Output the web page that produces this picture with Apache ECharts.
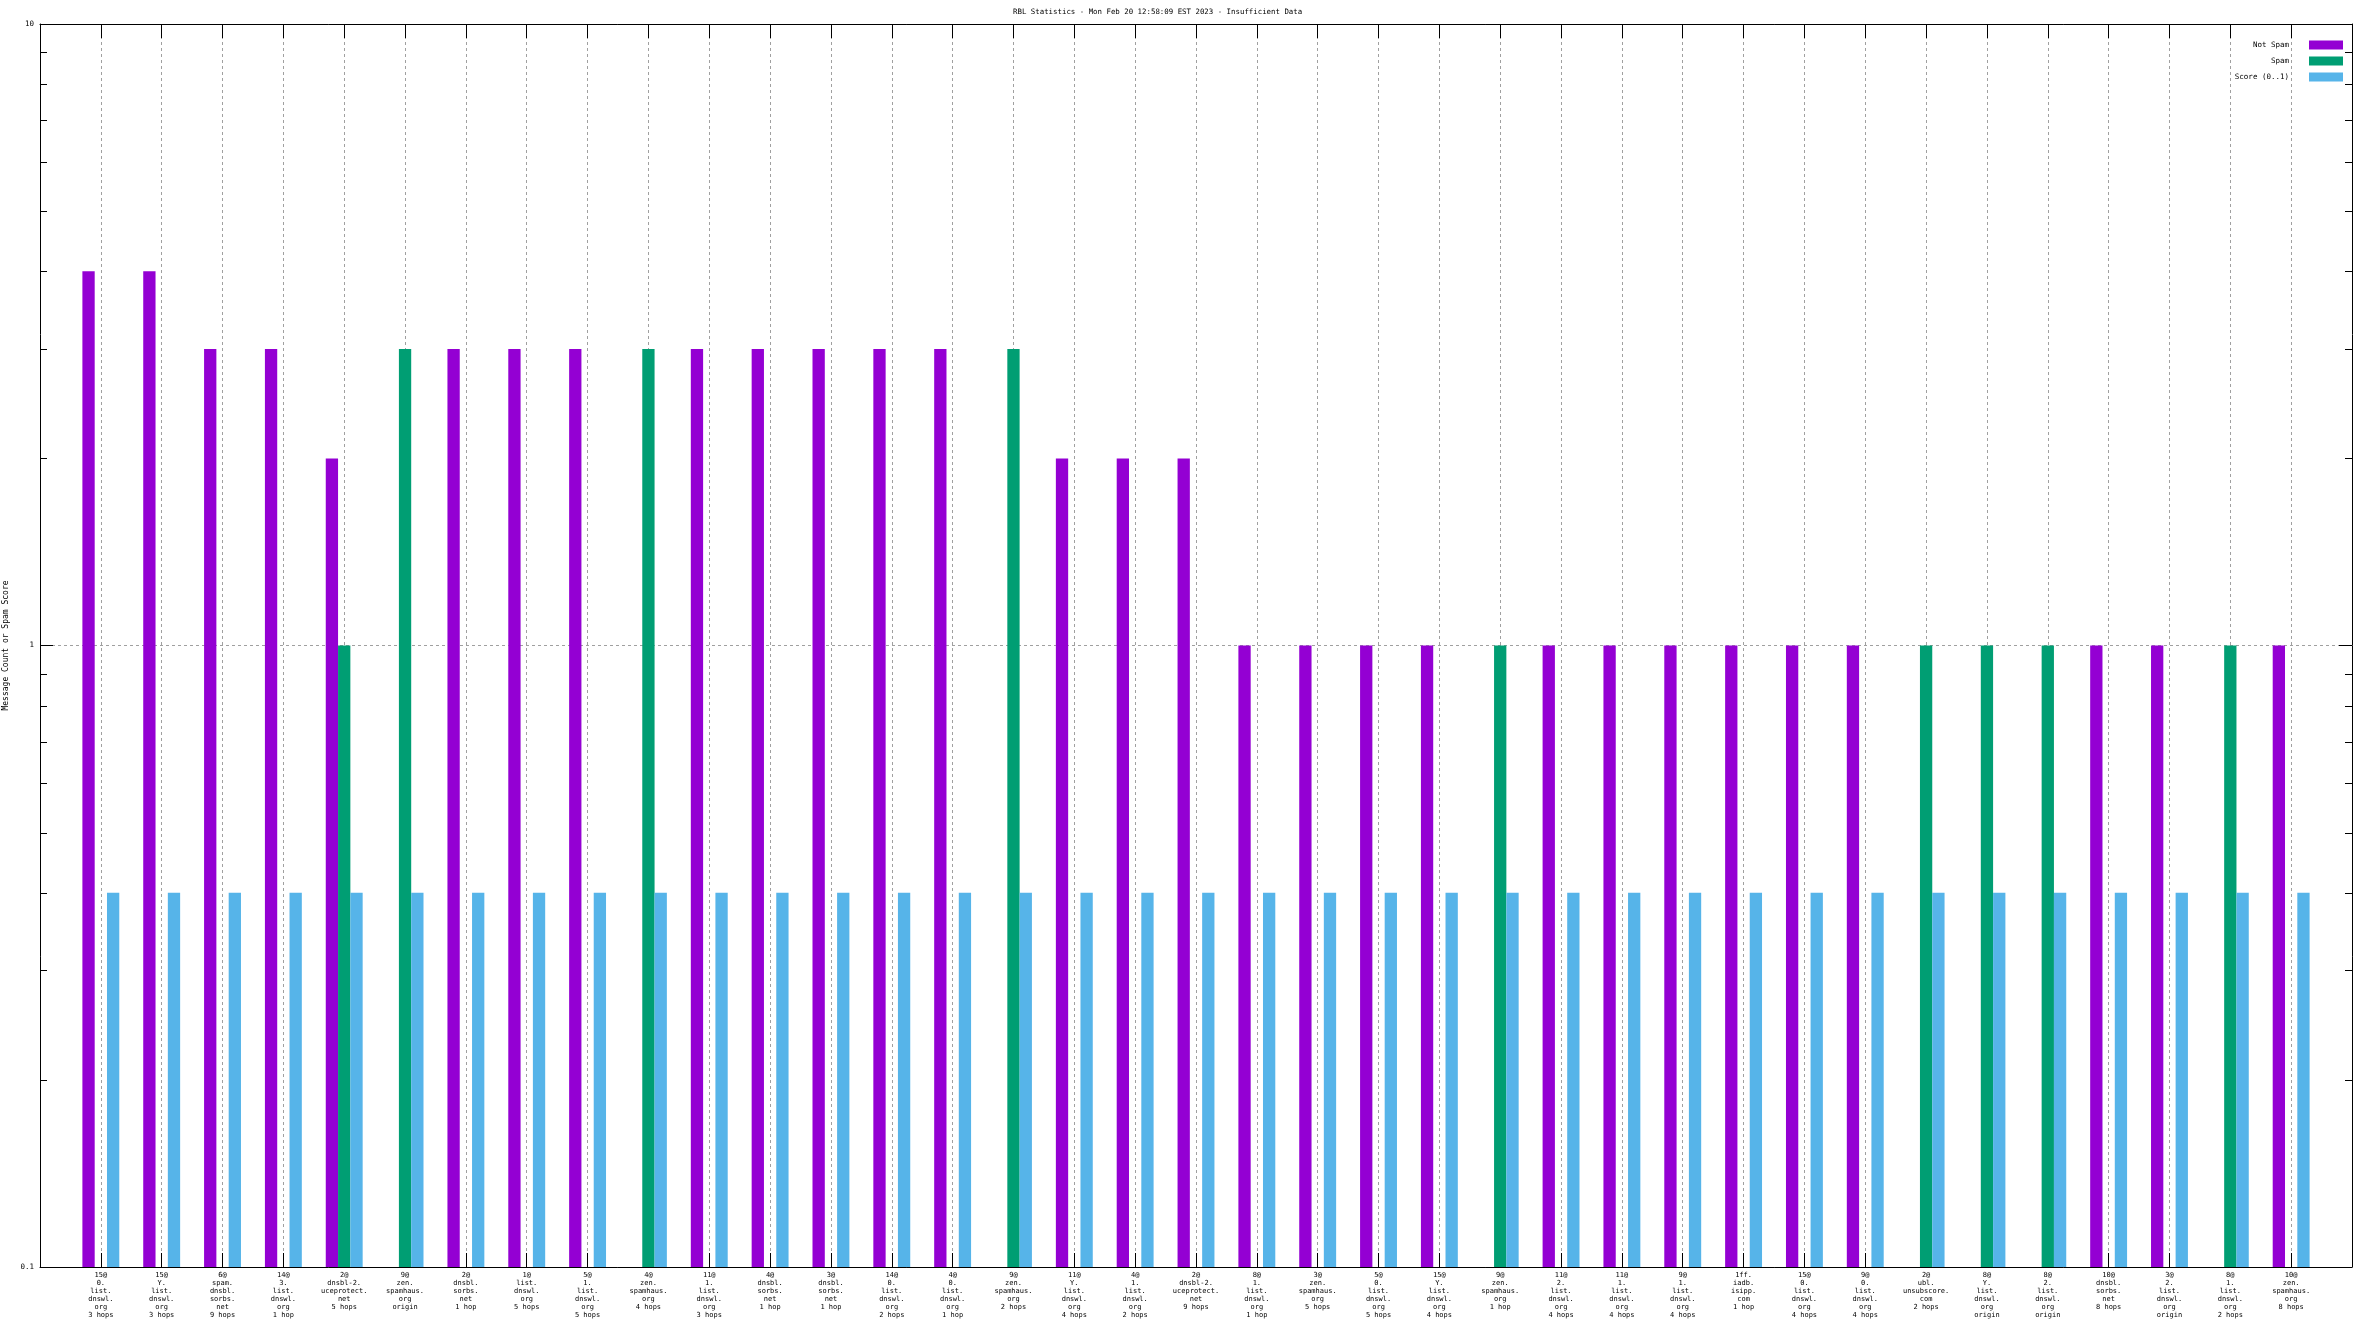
<!DOCTYPE html>
<html><head><meta charset="utf-8">
<script src="https://cdn.jsdelivr.net/npm/echarts@6/dist/echarts.min.js"></script>
<style>html,body{margin:0;padding:0;background:#fff}#c{width:2368px;height:1332px}</style>
</head><body><div id="c"></div>
<script>
// ---- data ----
const categories = [
  "15@\n0.\nlist.\ndnswl.\norg\n3 hops",
  "15@\nY.\nlist.\ndnswl.\norg\n3 hops",
  "6@\nspam.\ndnsbl.\nsorbs.\nnet\n9 hops",
  "14@\n3.\nlist.\ndnswl.\norg\n1 hop",
  "2@\ndnsbl-2.\nuceprotect.\nnet\n5 hops",
  "9@\nzen.\nspamhaus.\norg\norigin",
  "2@\ndnsbl.\nsorbs.\nnet\n1 hop",
  "1@\nlist.\ndnswl.\norg\n5 hops",
  "5@\n1.\nlist.\ndnswl.\norg\n5 hops",
  "4@\nzen.\nspamhaus.\norg\n4 hops",
  "11@\n1.\nlist.\ndnswl.\norg\n3 hops",
  "4@\ndnsbl.\nsorbs.\nnet\n1 hop",
  "3@\ndnsbl.\nsorbs.\nnet\n1 hop",
  "14@\n0.\nlist.\ndnswl.\norg\n2 hops",
  "4@\n0.\nlist.\ndnswl.\norg\n1 hop",
  "9@\nzen.\nspamhaus.\norg\n2 hops",
  "11@\nY.\nlist.\ndnswl.\norg\n4 hops",
  "4@\n1.\nlist.\ndnswl.\norg\n2 hops",
  "2@\ndnsbl-2.\nuceprotect.\nnet\n9 hops",
  "8@\n1.\nlist.\ndnswl.\norg\n1 hop",
  "3@\nzen.\nspamhaus.\norg\n5 hops",
  "5@\n0.\nlist.\ndnswl.\norg\n5 hops",
  "15@\nY.\nlist.\ndnswl.\norg\n4 hops",
  "9@\nzen.\nspamhaus.\norg\n1 hop",
  "11@\n2.\nlist.\ndnswl.\norg\n4 hops",
  "11@\n1.\nlist.\ndnswl.\norg\n4 hops",
  "9@\n1.\nlist.\ndnswl.\norg\n4 hops",
  "1ff.\niadb.\nisipp.\ncom\n1 hop",
  "15@\n0.\nlist.\ndnswl.\norg\n4 hops",
  "9@\n0.\nlist.\ndnswl.\norg\n4 hops",
  "2@\nubl.\nunsubscore.\ncom\n2 hops",
  "8@\nY.\nlist.\ndnswl.\norg\norigin",
  "8@\n2.\nlist.\ndnswl.\norg\norigin",
  "10@\ndnsbl.\nsorbs.\nnet\n8 hops",
  "3@\n2.\nlist.\ndnswl.\norg\norigin",
  "8@\n1.\nlist.\ndnswl.\norg\n2 hops",
  "10@\nzen.\nspamhaus.\norg\n8 hops"
];
const notSpam = [4,4,3,3,2,null,3,3,3,null,3,3,3,3,3,null,2,2,2,1,1,1,1,null,1,1,1,1,1,1,null,null,null,1,1,null,1];
const spam    = [null,null,null,null,1,3,null,null,null,3,null,null,null,null,null,3,null,null,null,null,null,null,null,1,null,null,null,null,null,null,1,1,1,null,null,1,null];
const score   = [0.4,0.4,0.4,0.4,0.4,0.4,0.4,0.4,0.4,0.4,0.4,0.4,0.4,0.4,0.4,0.4,0.4,0.4,0.4,0.4,0.4,0.4,0.4,0.4,0.4,0.4,0.4,0.4,0.4,0.4,0.4,0.4,0.4,0.4,0.4,0.4,0.4];
const seriesNames = ["Not Spam","Spam","Score (0..1)"];
const yTicks = [0.1, 1, 10];
const yMinorTicks = [0.2,0.3,0.4,0.5,0.6,0.7,0.8,0.9,2,3,4,5,6,7,8,9];
const titleText = "RBL Statistics - Mon Feb 20 12:58:09 EST 2023 - Insufficient Data";
const yName = "Message Count or Spam Score";

// ---- styling ----
const colors = ['#9400d3', '#009e73', '#56b4e9'];
const FONT = "'DejaVu Sans Mono', monospace";
const BAR_W = 12.3;
const yMin = yTicks[0], yMax = yTicks[yTicks.length - 1];
const gridLine = {show: true, lineStyle: {color: '#a0a0a0', type: [3, 3], width: 1}};

function toData(arr){ return arr.map((v, i) => v == null ? null : [i, v]).filter(d => d); }

function barRenderer(idx){
  return function(params, api){
    const x = api.value(0), v = api.value(1);
    const top = api.coord([x, v]);
    const base = api.coord([x, yMin]);
    const left = top[0] + (idx - 1) * BAR_W - BAR_W / 2;
    return {type: 'rect', shape: {x: left, y: top[1], width: BAR_W, height: base[1] - top[1]},
            style: {fill: colors[idx]}};
  };
}

const chart = echarts.init(document.getElementById('c'), null, {renderer: 'canvas'});
const legends = seriesNames.map((n, i) => ({
  data: [n], orient: 'vertical', right: 25, top: 40.5 + i * 16, padding: 0,
  icon: 'rect', itemWidth: 34, itemHeight: 9, align: 'right', selectedMode: false,
  textStyle: {fontFamily: FONT, fontSize: 7.5, color: '#000', padding: [0, 15, 0, 0]}
}));

chart.setOption({
  backgroundColor: '#fff',
  animation: false,
  title: {text: titleText, left: 1013, top: 9, padding: 0,
          textStyle: {fontFamily: FONT, fontSize: 7.4, fontWeight: 'normal', color: '#000'}},
  legend: legends,
  grid: {left: 40, right: 16, top: 24, bottom: 65, containLabel: false, outerBoundsMode: 'none'},
  xAxis: [{
    type: 'value', min: -1, max: categories.length, interval: 1, position: 'bottom',
    axisLine: {show: true, onZero: false, lineStyle: {color: '#000', width: 1}},
    axisTick: {show: true, inside: true, length: 14, lineStyle: {color: '#000'}},
    axisLabel: {show: true, margin: 4, fontFamily: FONT, fontSize: 7, lineHeight: 8, color: '#000',
                align: 'center', formatter: v => categories[v] || ''},
    splitLine: gridLine
  }, {
    type: 'value', min: -1, max: categories.length, interval: 1, position: 'top',
    axisLine: {show: true, onZero: false, lineStyle: {color: '#000', width: 1}},
    axisTick: {show: true, inside: true, length: 14, lineStyle: {color: '#000'}},
    axisLabel: {show: false}, splitLine: {show: false}
  }],
  yAxis: [{
    type: 'log', logBase: 10, min: yMin, max: yMax, position: 'left',
    name: yName, nameLocation: 'middle', nameGap: 28, nameRotate: 90,
    nameTextStyle: {fontFamily: FONT, fontSize: 8, color: '#000'},
    axisLine: {show: true, onZero: false, lineStyle: {color: '#000', width: 1}},
    axisTick: {show: true, inside: true, length: 13, lineStyle: {color: '#000'}},
    axisLabel: {show: true, margin: 6, fontFamily: FONT, fontSize: 7.5, color: '#000',
                formatter: v => String(v)},
    splitLine: gridLine
  }, {
    type: 'log', logBase: 10, min: yMin, max: yMax, position: 'right',
    axisLine: {show: true, onZero: false, lineStyle: {color: '#000', width: 1}},
    axisTick: {show: true, inside: true, length: 13, lineStyle: {color: '#000'}},
    axisLabel: {show: false}, splitLine: {show: false}
  }],
  series: [
    ...[notSpam, spam, score].map((arr, i) => ({
      name: seriesNames[i], type: 'custom', xAxisIndex: 0, yAxisIndex: 0,
      itemStyle: {color: colors[i]}, color: colors[i],
      data: toData(arr), renderItem: barRenderer(i), silent: true
    })),
    {
      name: 'minor', type: 'custom', xAxisIndex: 0, yAxisIndex: 0, silent: true, z: 10,
      data: yMinorTicks.map(v => [0, v]),
      renderItem: (params, api) => {
        const cs = params.coordSys;
        const y = Math.round(api.coord([0, api.value(1)])[1]) + 0.5;
        return {type: 'group', children: [
          {type: 'line', shape: {x1: cs.x, y1: y, x2: cs.x + 7, y2: y}, style: {stroke: '#000', lineWidth: 1}},
          {type: 'line', shape: {x1: cs.x + cs.width - 7, y1: y, x2: cs.x + cs.width, y2: y}, style: {stroke: '#000', lineWidth: 1}}
        ]};
      }
    }
  ]
});
</script></body></html>
